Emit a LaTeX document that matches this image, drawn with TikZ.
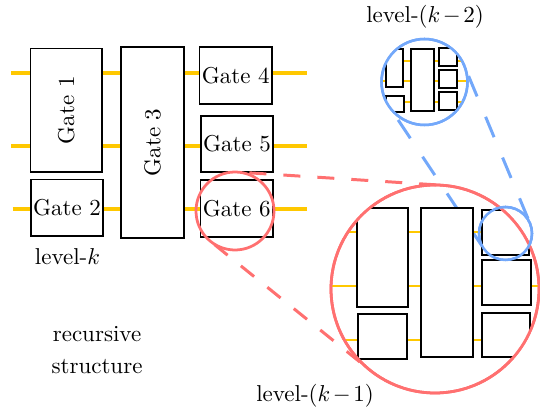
\documentclass[tikz,border=0pt]{standalone}
\usetikzlibrary{fit}
\definecolor{wireyellow}{RGB}{255,200,0}
\definecolor{zred}{RGB}{255,112,112}
\definecolor{zblue}{RGB}{115,168,250}
\begin{document}
\begin{tikzpicture}[x=0.435pt,y=-0.435pt,
  wire/.style={draw=wireyellow, line width=1.5pt},
  wiremid/.style={draw=wireyellow, line width=1.25pt},
  wiresmall/.style={draw=wireyellow, line width=0.85pt},
  gate/.style={draw=black, fill=white, line width=0.65pt, inner sep=0pt, outer sep=0pt},
  gatesmall/.style={draw=black, fill=white, line width=0.6pt, inner sep=0pt, outer sep=0pt},
  gtext/.style={inner sep=0pt},
  redring/.style={circle, draw=zred, line width=1.2pt, inner sep=0pt, outer sep=0pt},
  bluering/.style={circle, draw=zblue, line width=1.1pt, inner sep=0pt, outer sep=0pt},
  reddash/.style={draw=zred, line width=1.3pt, dash pattern=on 7.4pt off 7.4pt},
  bluedash/.style={draw=zblue, line width=1.3pt, dash pattern=on 9.6pt off 9.6pt},
  lbl/.style={anchor=base, inner sep=0pt}]
\useasboundingbox (0,0) rectangle (540,410);

% ---------- level-k ----------
\coordinate (w1a) at (11,73);   \coordinate (w1b) at (307,73);
\coordinate (w2a) at (11,146);  \coordinate (w2b) at (307,146);
\coordinate (w3a) at (12.5,209); \coordinate (w3b) at (307,209);
\draw[wire] (w1a) -- (w1b);
\draw[wire] (w2a) -- (w2b);
\draw[wire] (w3a) -- (w3b);

\node[gate, fit={(30.5,48.5) (102,172)}] (g1) {};
\node[gate, fit={(31,179.5) (103,236)}] (g2) {};
\node[gate, fit={(121,47) (184,238)}] (g3) {};
\node[gate, fit={(199.5,47) (272,104)}] (g4) {};
\node[gate, fit={(201,116) (273,172)}] (g5) {};
\node[gate, fit={(200.5,180) (273,237)}] (g6) {};
\node[gtext, rotate=90] (t1) at (g1.center) {Gate 1};
\node[gtext] (t2) at (g2.center) {Gate 2};
\node[gtext, rotate=90] (t3) at (g3.center) {Gate 3};
\node[gtext] (t4) at (g4.center) {Gate 4};
\node[gtext] (t5) at (g5.center) {Gate 5};
\node[gtext] (t6) at (g6.center) {Gate 6};

\node[redring, minimum size=33.93pt] (rs) at (235,211) {};
\node[redring, minimum size=90.48pt] (rb) at (435,289) {};
\node[bluering, minimum size=37.41pt] (bt) at (424.5,82) {};
\node[bluering, minimum size=23.06pt] (bs) at (505.5,233.5) {};

% ---------- zoom connectors ----------
\draw[reddash, dash phase=9.7pt] (rs.86.3) -- (rb.86.3);
\draw[reddash, dash phase=12.6pt] (rs.231.1) -- (rb.231.1);
\draw[bluedash, dash phase=11.6pt] (bt.213.6) -- (bs.213.6);
\draw[bluedash, dash phase=14.4pt] (bt.22.6) -- (bs.22.6);

% ---------- level-(k-1) ----------
\begin{scope}
\clip (rb.center) circle [radius=45.24pt];
\coordinate (v1a) at (325,232); \coordinate (v1b) at (545,232);
\coordinate (v2a) at (325,286); \coordinate (v2b) at (545,286);
\coordinate (v3a) at (325,340); \coordinate (v3b) at (545,340);
\draw[wiremid] (v1a) -- (v1b);
\draw[wiremid] (v2a) -- (v2b);
\draw[wiremid] (v3a) -- (v3b);
\node[gate, fit={(357,208) (408,307)}] (h1) {};
\node[gate, fit={(358,314) (407,359)}] (h2) {};
\node[gate, fit={(421,208) (473,357)}] (h3) {};
\node[gate, fit={(482,210) (529,255)}] (h4) {};
\node[gate, fit={(482,260) (531,305)}] (h5) {};
\node[gate, fit={(482,313) (530,357)}] (h6) {};
\end{scope}
\node[redring, minimum size=90.48pt] at (rb.center) {};
\node[bluering, minimum size=23.06pt] at (bs.center) {};

% ---------- level-(k-2) ----------
\begin{scope}
\clip (bt.center) circle [radius=18.7pt];
\coordinate (u1a) at (375,61);  \coordinate (u1b) at (475,61);
\coordinate (u2a) at (375,81);  \coordinate (u2b) at (475,81);
\coordinate (u3a) at (375,102); \coordinate (u3b) at (475,102);
\draw[wiresmall] (u1a) -- (u1b);
\draw[wiresmall] (u2a) -- (u2b);
\draw[wiresmall] (u3a) -- (u3b);
\node[gatesmall, fit={(386,49) (403,87)}] (k1) {};
\node[gatesmall, fit={(386,96) (404,112)}] (k2) {};
\node[gatesmall, fit={(411,49) (434,111)}] (k3) {};
\node[gatesmall, fit={(439,48) (457,66)}] (k4) {};
\node[gatesmall, fit={(439,70) (457,88)}] (k5) {};
\node[gatesmall, fit={(439,92) (457,110)}] (k6) {};
\end{scope}
\node[bluering, minimum size=37.41pt] at (bt.center) {};

% ---------- labels ----------
\node[lbl] (lk) at (67.5,265) {level-$k$};
\node[lbl] (lk1) at (315,401) {level-$(k\mkern2mu{-}\mkern2mu1)$};
\node[lbl] (lk2) at (425,23) {level-$(k\mkern2mu{-}\mkern2mu2)$};
\node[lbl] (rec) at (97,341.7) {recursive};
\node[lbl] (str) at (97,373.3) {structure};
\end{tikzpicture}
\end{document}
